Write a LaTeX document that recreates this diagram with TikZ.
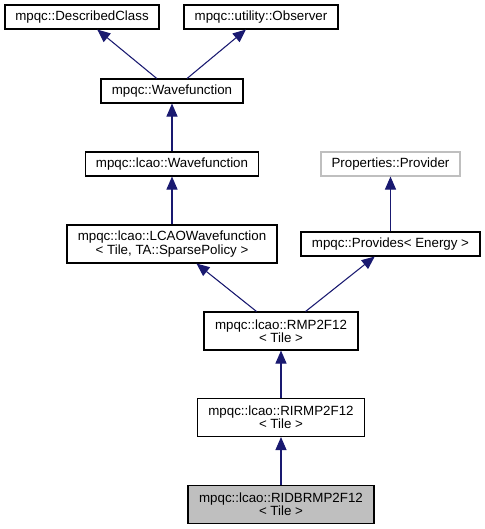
\documentclass[tikz,border=0pt]{standalone}
\usepackage{fontspec}
\setmainfont{Liberation Sans}
\usepackage{tikz}
\usetikzlibrary{arrows.meta}
\definecolor{Navy}{HTML}{191970}
\definecolor{Grey}{HTML}{BFBFBF}
\tikzset{cls/.style={draw=black,line width=.8pt,inner sep=0pt,minimum height=18pt,align=center,font=\fontsize{10}{10}\selectfont},tall/.style={cls,minimum height=28.5pt},inh/.style={-{Triangle[length=9.75pt,width=8.25pt]},draw=Navy,line width=.8pt}}

\begin{document}
\begin{tikzpicture}[x=.75pt,y=-.75pt]
      \useasboundingbox(0,0)rectangle(485,529);
      \node[cls,minimum width=115.5pt](dc)at(82,17){mpqc::DescribedClass};
      \node[cls,minimum width=115.5pt](obs)at(261,17){mpqc::utility::Observer};
      \node[cls,minimum width=106.5pt](wf)at(172,91){mpqc::Wavefunction};
      \node[cls,minimum width=129.75pt](lwf)at(172,164){mpqc::lcao::Wavefunction};
      \node[cls,draw=Grey,minimum width=104.25pt](pp)at(390.5,164){Properties::Provider};
      \node[tall,minimum width=157.5pt](lcao)at(172,244){mpqc::lcao::LCAOWavefunction\\< Tile, TA::SparsePolicy >};
      \node[cls,minimum width=134.25pt](prov)at(390.5,244){mpqc::Provides< Energy >};
      \node[tall,minimum width=115.5pt](rmp)at(281,331){mpqc::lcao::RMP2F12\\< Tile >};
      \node[tall,minimum width=125.25pt](rir)at(281,417.5){mpqc::lcao::RIRMP2F12\\< Tile >};
      \node[tall,fill=Grey,minimum width=139.5pt](ridb)at(281,504.5){mpqc::lcao::RIDBRMP2F12\\< Tile >};
      \draw[inh](wf)--(dc);\draw[inh](wf)--(obs);
      \draw[inh](lwf)--(wf);\draw[inh](lcao)--(lwf);\draw[inh](prov)--(pp);
      \draw[inh](rmp)--(lcao);\draw[inh](rmp)--(prov);
      \draw[inh](rir)--(rmp);\draw[inh](ridb)--(rir);
    \end{tikzpicture}
\end{document}
